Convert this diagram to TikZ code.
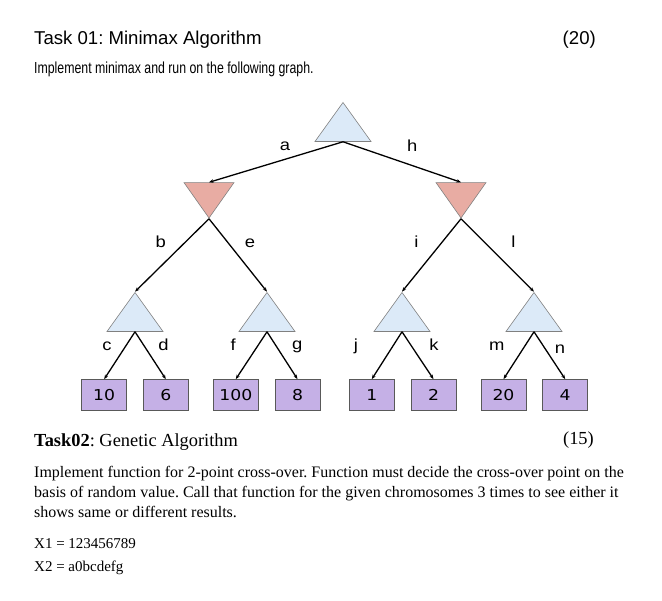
\documentclass[tikz,border=0pt]{standalone}
\usepackage{fontspec}
\setmainfont{Liberation Serif}
\newfontfamily\headsans{Liberation Sans}
\newfontfamily\narrowsans[FakeStretch=0.77]{Liberation Sans}
\newfontfamily\widesans[FakeStretch=1.15]{Liberation Sans}
\newfontfamily\leafsans[FakeStretch=1.15]{DejaVu Sans}
\usetikzlibrary{shapes.geometric,arrows.meta}
\frenchspacing

\definecolor{maxfill}{RGB}{220,234,248}
\definecolor{minfill}{RGB}{232,172,163}
\definecolor{leaffill}{RGB}{197,176,230}

\tikzset{
  maxnode/.style={draw=black!50,line width=0.6pt,fill=maxfill,isosceles triangle,
    isosceles triangle stretches,shape border rotate=90,minimum width=56pt,
    minimum height=39pt,inner sep=0pt,anchor=north},
  minnode/.style={draw=black!50,line width=0.6pt,fill=minfill,isosceles triangle,
    isosceles triangle stretches,shape border rotate=270,minimum width=50pt,
    minimum height=35.4pt,inner sep=0pt,anchor=north},
  leaf/.style={draw=black!65,line width=0.7pt,fill=leaffill,minimum width=45pt,
    minimum height=31pt,inner sep=0pt,font=\leafsans\fontsize{15}{15}\selectfont},
  lbl/.style={inner sep=0pt,anchor=base,font=\widesans\fontsize{16}{16}\selectfont},
  arc/.style={-{Stealth[length=4.5pt,width=3.5pt]},line width=1.3pt},
  txt/.style={inner sep=0pt,anchor=base west}
}

\begin{document}
\begin{tikzpicture}[x=1pt,y=-1pt,font=\fontsize{15}{18}\selectfont]
  \useasboundingbox (0,0) rectangle (662,601);

  \node[txt,font=\headsans\fontsize{18.6}{20}\selectfont] at (34,45) (T1) {Task 01: Minimax Algorithm};
  \node[txt,anchor=base east,font=\headsans\fontsize{18.6}{20}\selectfont] at (596,45) (S1) {(20)};
  \node[txt,font=\narrowsans\fontsize{16}{18}\selectfont] at (34,74) (D1) {Implement minimax and run on the following graph.};

  \node[maxnode] at (343,101.7) (R) {};
  \node[minnode] at (209,182.3) (M1) {};
  \node[minnode] at (461,182.3) (M2) {};
  \node[maxnode] at (135,291.7) (N1) {};
  \node[maxnode] at (267,291.7) (N2) {};
  \node[maxnode] at (402,291.7) (N3) {};
  \node[maxnode] at (534,291.7) (N4) {};

  \node[leaf] at (104.2,395) (L1) {10};
  \node[leaf] at (165.8,395) (L2) {6};
  \node[leaf] at (235.8,395) (L3) {100};
  \node[leaf] at (297.5,395) (L4) {8};
  \node[leaf] at (371.8,395) (L5) {1};
  \node[leaf] at (433.5,395) (L6) {2};
  \node[leaf] at (503.5,395) (L7) {20};
  \node[leaf] at (565.2,395) (L8) {4};

  \draw[arc] (R.south) -- node[lbl,shift={(9,-11.5)}] (ea) {a} (M1.north);
  \draw[arc] (R.south) -- node[lbl,shift={(10.3,-10.5)}] (eh) {h} (M2.north);

  \draw[arc] (M1.south) -- node[lbl,shift={(-11.3,-7.9)}] (eb) {b} (N1.north);
  \draw[arc] (M1.south) -- node[lbl,shift={(12.1,-7.9)}] (ee) {e} (N2.north);
  \draw[arc] (M2.south) -- node[lbl,shift={(-15.2,-7.9)}] (ei) {i} (N3.north);
  \draw[arc] (M2.south) -- node[lbl,shift={(15.9,-7.9)}] (el) {l} (N4.north);

  \draw[arc] (N1.south) -- node[lbl,shift={(-12.7,-5)}] (ec) {c} (L1.north);
  \draw[arc] (N1.south) -- node[lbl,shift={(13.1,-5)}] (ed) {d} (L2.north);
  \draw[arc] (N2.south) -- node[lbl,shift={(-18.1,-5)}] (ef) {f} (L3.north);
  \draw[arc] (N2.south) -- node[lbl,shift={(15,-6)}] (eg) {g} (L4.north);
  \draw[arc] (N3.south) -- node[lbl,shift={(-31,-5)}] (ej) {j} (L5.north);
  \draw[arc] (N3.south) -- node[lbl,shift={(16.1,-5)}] (ek) {k} (L6.north);
  \draw[arc] (N4.south) -- node[lbl,shift={(-22,-5)}] (em) {m} (L7.north);
  \draw[arc] (N4.south) -- node[lbl,shift={(10.4,-2)}] (en) {n} (L8.north);

  \node[txt,font=\fontsize{18.4}{20}\selectfont] at (34,446.5) (T2) {\textbf{Task02}: Genetic Algorithm};
  \node[txt,anchor=base east,font=\fontsize{18.4}{20}\selectfont] at (594,445) (S2) {(15)};
  \node[txt,font=\fontsize{16}{18}\selectfont] at (34,478) (P1) {Implement function for 2-point cross-over. Function must decide the cross-over point on the};
  \node[txt,font=\fontsize{16}{18}\selectfont] at (34,498) (P2) {basis of random value. Call that function for the given chromosomes 3 times to see either it};
  \node[txt,font=\fontsize{16}{18}\selectfont] at (34,518) (P3) {shows same or different results.};
  \node[txt] at (34,548.3) (X1) {X1 = 123456789};
  \node[txt] at (34,571.7) (X2) {X2 = a0bcdefg};
\end{tikzpicture}
\end{document}
